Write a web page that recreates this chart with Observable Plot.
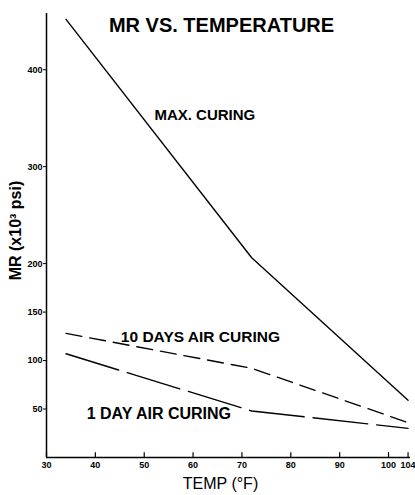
<!DOCTYPE html>
<html><head><meta charset="utf-8">
<script src="https://cdn.jsdelivr.net/npm/d3@7"></script>
<script src="https://cdn.jsdelivr.net/npm/@observablehq/plot@0.6"></script>
<style>body{margin:0;background:#fff;font-family:"Liberation Sans",Arial,sans-serif}</style>
</head><body><div id="chart"></div>
<script>
const temps = [34, 72, 104];
const maxCuring = [452, 206, 59];
const tenDays = [128, 92, 36];
const oneDay = [107, 48, 30];
const xTicks = [30, 40, 50, 60, 70, 80, 90, 100, 104];
const yTicks = [50, 100, 150, 200, 300, 400];
const seriesNames = ["MAX. CURING", "10 DAYS AIR CURING", "1 DAY AIR CURING"];
const labelTemps = [62.4, 61.5, 53];
const labelMR = [353, 124, 45];

const rows = (vals) => temps.map((t, i) => ({t, v: vals[i]}));
const labels = seriesNames.map((s, i) => ({s, t: labelTemps[i], v: labelMR[i]}));

const chart = Plot.plot({
  width: 415, height: 495,
  marginLeft: 46, marginRight: 5, marginTop: 13, marginBottom: 38,
  style: {fontFamily: "Liberation Sans, Arial, sans-serif", color: "#000", background: "#fff"},
  x: {domain: [30, 104.5]},
  y: {domain: [0, 458]},
  marks: [
    Plot.ruleX([30], {stroke: "#000", strokeWidth: 1.5}),
    Plot.ruleY([0], {stroke: "#000", strokeWidth: 1.5}),
    Plot.axisY({ticks: yTicks, tickSize: 3, tickPadding: 1, label: null, fontSize: 9, fontWeight: "bold"}),
    Plot.axisX({ticks: xTicks, tickSize: 0, tickPadding: 4, label: null, fontSize: 9, fontWeight: "bold"}),
    Plot.ruleX(xTicks, {x: d => d, y1: 0, y2: 5, stroke: "#000", strokeWidth: 1.2}),
    Plot.line(rows(maxCuring), {x: "t", y: "v", stroke: "#000", strokeWidth: 1.4}),
    Plot.line(rows(tenDays), {x: "t", y: "v", stroke: "#000", strokeWidth: 1.4, strokeDasharray: "16,8"}),
    Plot.line(rows(oneDay), {x: "t", y: "v", stroke: "#000", strokeWidth: 1.4, strokeDasharray: "55,9"}),
    Plot.text(labels.slice(0,1), {x: "t", y: "v", text: "s", fontSize: 15, fontWeight: "bold", fill: "#000"}),
    Plot.text(labels.slice(1,2), {x: "t", y: "v", text: "s", fontSize: 15.5, fontWeight: "bold", fill: "#000"}),
    Plot.text(labels.slice(2), {x: "t", y: "v", text: "s", fontSize: 16, fontWeight: "bold", fill: "#000"}),
    Plot.text(["MR VS. TEMPERATURE"], {frameAnchor: "top", dx: -7, dy: 4.5, fontSize: 20, fontWeight: "bold", fill: "#000"}),
    Plot.text(["MR (x10³ psi)"], {frameAnchor: "left", textAnchor: "middle", dx: -31, dy: -5, rotate: -90, fontSize: 16, fontWeight: "bold", fill: "#000"}),
    Plot.text(["TEMP (°F)"], {frameAnchor: "bottom", dx: -8, dy: 31, fontSize: 16, fill: "#000"})
  ]
});
document.getElementById("chart").append(chart);
</script></body></html>
